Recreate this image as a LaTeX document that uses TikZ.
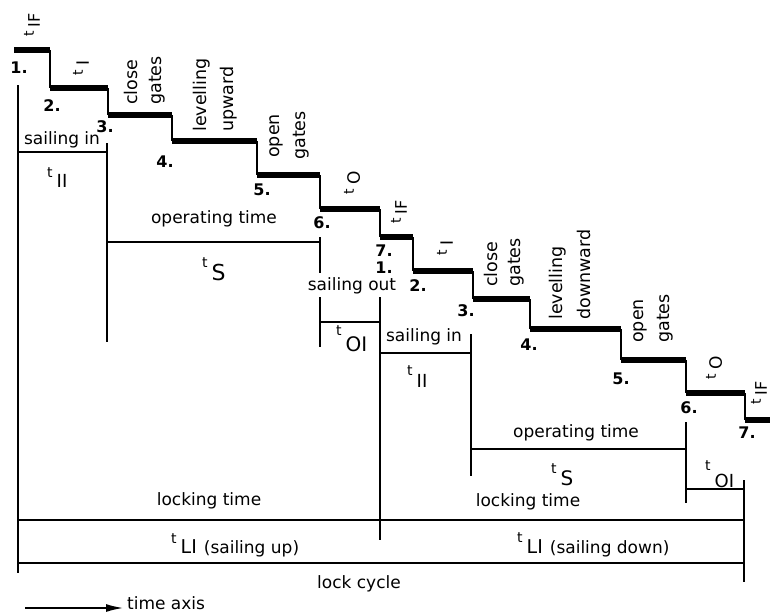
\documentclass[tikz,border=0pt]{standalone}
\usepackage{fontspec}
\setmainfont{DejaVu Sans}
\usetikzlibrary{arrows.meta}
\newcommand\tlab[4]{{\fontsize{#1}{#1}\selectfont t}\kern4pt\raisebox{-#4pt}{\fontsize{#3}{#3}\selectfont #2}}
\tikzset{
  lbl/.style={font=\fontsize{17}{18}\selectfont, inner sep=0pt, anchor=base},
  rlbl/.style={font=\fontsize{17.5}{18}\selectfont, inner sep=0pt, rotate=90, anchor=base west},
  num/.style={font=\bfseries\fontsize{16}{16}\selectfont, inner sep=0pt},
  tl/.style={inner sep=0pt, anchor=base west},
  rt/.style={inner sep=0pt, rotate=90, anchor=center},
  tread/.style={line width=5.5pt},
  riser/.style={line width=2.5pt},
  rule/.style={line width=1.8pt}
}
\begin{document}
\begin{tikzpicture}[x=1pt,y=-1pt]
\useasboundingbox (0,0) rectangle (770,614);
% staircase: treads
\foreach \a/\b/\y in {14/50/50, 50/108/88, 108/172/115, 172/257/141, 257/320/175, 320/380/209, 380/413/237, 413/473/271, 473/530/299, 530/621/329, 621/686/360, 686/745/393, 745/775/420}
  \draw[tread] (\a,\y) -- (\b,\y);
% staircase: risers
\foreach \x/\a/\b in {50/50/88, 108/88/115, 172/115/141, 257/141/175, 320/175/209, 380/209/237, 413/237/271, 473/271/299, 530/299/329, 621/329/360, 686/360/393, 745/393/420}
  \draw[riser] (\x,\a) -- (\x,\b);
% time brackets
\draw[rule] (18,85) -- (18,573);
\draw[rule] (18,152) -- (107,152);
\draw[rule] (107,143) -- (107,342);
\draw[rule] (107,242) -- (320,242);
\draw[rule] (320,237) -- (320,273);
\draw[rule] (320,297) -- (320,347);
\draw[rule] (320,322) -- (380,322);
\draw[rule] (380,297) -- (380,540);
\draw[rule] (380,353) -- (471,353);
\draw[rule] (471,334) -- (471,476);
\draw[rule] (471,449) -- (686,449);
\draw[rule] (686,422) -- (686,503);
\draw[rule] (686,489) -- (744,489);
\draw[rule] (744,480) -- (744,582);
\draw[rule] (18,520) -- (744,520);
\draw[rule] (18,563) -- (744,563);
% time axis
\coordinate (ax1) at (25,608);
\coordinate (ax2) at (124,608);
\draw[line width=2.2pt, -{Latex[length=18pt,width=8pt]}] (ax1) -- (ax2);
\node[lbl, anchor=base west] (tax) at (127,609) {time axis};
% step numbers
\node[num] (n1) at (19,68) {1.};
\node[num] (n2) at (52,106) {2.};
\node[num] (n3) at (105,127) {3.};
\node[num] (n4) at (165,162) {4.};
\node[num] (n5) at (262,190) {5.};
\node[num] (n6) at (322,223) {6.};
\node[num] (n7) at (384,251) {7.};
\node[num] (m1) at (384,268) {1.};
\node[num] (m2) at (418,286) {2.};
\node[num] (m3) at (466,311) {3.};
\node[num] (m4) at (529,345) {4.};
\node[num] (m5) at (621,379) {5.};
\node[num] (m6) at (689,408) {6.};
\node[num] (m7) at (747,433) {7.};
% rotated step labels
\node[rlbl] (c1) at (137,105) {close};
\node[rlbl] (g1) at (161,105) {gates};
\node[rlbl] (lv1) at (206,132) {levelling};
\node[rlbl] (up1) at (233,132) {upward};
\node[rlbl] (o1) at (279,158) {open};
\node[rlbl] (g2) at (305,160) {gates};
\node[rlbl] (c2) at (497,287) {close};
\node[rlbl] (g3) at (520,287) {gates};
\node[rlbl] (lv2) at (562,320) {levelling};
\node[rlbl] (dn2) at (590,320) {downward};
\node[rlbl] (o2) at (643,343) {open};
\node[rlbl] (g4) at (669,343) {gates};
% rotated time symbols
\node[rt] (tif1) at (32,25) {\tlab{14}{IF}{16}{6}};
\node[rt] (ti1) at (81,68) {\tlab{14}{I}{17}{6}};
\node[rt] (to1) at (352,183) {\tlab{14}{O}{17}{6}};
\node[rt] (tif2) at (399,212) {\tlab{14}{IF}{16}{6}};
\node[rt] (ti2) at (445,248) {\tlab{14}{I}{17}{6}};
\node[rt] (to2) at (714,368) {\tlab{14}{O}{17}{6}};
\node[rt] (tif3) at (759,393) {\tlab{14}{IF}{16}{6}};
% horizontal labels
\node[lbl] (si1) at (62,144) {sailing in};
\node[lbl] (si2) at (424,341) {sailing in};
\node[lbl] (op1) at (214,223) {operating time};
\node[lbl] (op2) at (576,437) {operating time};
\node[lbl] (so) at (352,290) {sailing out};
\node[lbl] (lk1) at (209,505) {locking time};
\node[lbl] (lk2) at (528,506) {locking time};
\node[lbl] (lc) at (359,588) {lock cycle};
% time symbols
\node[tl] (tii1) at (47,177) {\tlab{14}{II}{18}{10}};
\node[tl] (ts1) at (202,267) {\tlab{14}{S}{22}{13}};
\node[tl] (toi1) at (336,335) {\tlab{14}{OI}{20}{16}};
\node[tl] (tii2) at (407,375) {\tlab{14}{II}{18}{12}};
\node[tl] (ts2) at (551,473) {\tlab{14}{S}{20}{12}};
\node[tl] (toi2) at (705,470) {\tlab{14}{OI}{18}{17}};
\node[tl] (tlu) at (171,543) {\tlab{14}{LI}{19}{10}\kern7pt\raisebox{-10pt}{\fontsize{17}{18}\selectfont (sailing up)}};
\node[tl] (tld) at (517,542) {\tlab{14}{LI}{19}{11}\kern7pt\raisebox{-11pt}{\fontsize{17}{18}\selectfont (sailing down)}};
\end{tikzpicture}
\end{document}
